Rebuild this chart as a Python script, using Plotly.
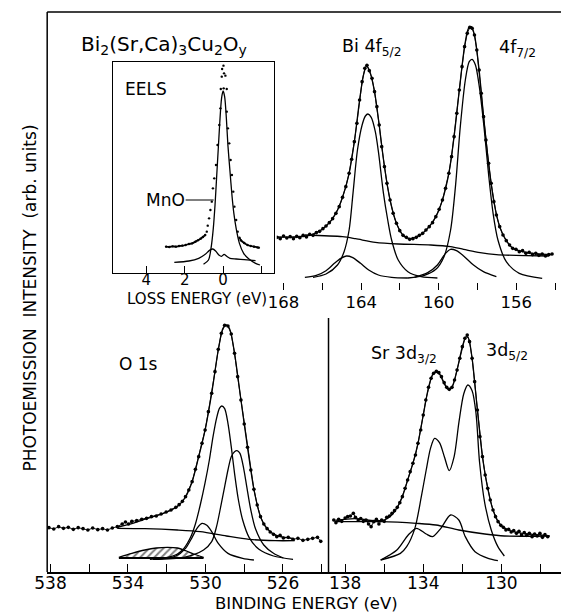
import plotly.graph_objects as go

W, H = 561, 613
FONT = "DejaVu Sans"

# ---------------- Bi 4f panel (binding energy eV, intensity arb.) ----------------
bi_dots_ev = [168.34, 168.17, 168.00, 167.83, 167.66, 167.49, 167.32, 167.16, 166.99, 166.82,
              166.65, 166.48, 166.31, 166.14, 165.97, 165.81, 165.64, 165.47, 165.30, 165.13,
              164.96, 164.79, 164.62, 164.49, 164.35, 164.22, 164.08, 163.95, 163.81, 163.70,
              163.58, 163.44, 163.31, 163.19, 163.07, 162.94, 162.80, 162.67, 162.51, 162.35,
              162.18, 162.01, 161.84, 161.67, 161.50, 161.33, 161.16, 161.00, 160.83, 160.66,
              160.49, 160.32, 160.15, 159.98, 159.81, 159.65, 159.48, 159.34, 159.21, 159.07,
              158.94, 158.80, 158.67, 158.53, 158.40, 158.28, 158.16, 158.04, 157.92, 157.81,
              157.69, 157.57, 157.43, 157.30, 157.16, 157.03, 156.86, 156.69, 156.52, 156.35,
              156.19, 156.02, 155.85, 155.68, 155.51, 155.34, 155.17, 155.00, 154.84, 154.67,
              154.50, 154.33, 154.16]
bi_dots_int = [15.8, 15.4, 16.2, 15.6, 16.0, 15.4, 16.1, 15.7, 16.4, 15.9,
               16.7, 16.4, 17.2, 17.6, 18.4, 19.2, 20.2, 21.4, 23.0, 25.0,
               27.8, 31.0, 35.0, 39.2, 44.5, 50.0, 57.0, 62.5, 66.5, 67.4,
               65.8, 63.5, 59.5, 55.0, 49.5, 43.0, 37.0, 32.0, 27.0, 23.0,
               20.0, 17.8, 16.4, 15.8, 15.2, 15.4, 15.8, 16.4, 17.0, 18.0,
               19.0, 20.2, 22.0, 24.2, 27.0, 30.5, 35.0, 40.0, 46.0, 53.0,
               60.0, 67.0, 73.0, 77.0, 78.8, 78.5, 76.5, 72.0, 66.0, 59.0,
               52.0, 45.0, 38.0, 32.0, 26.5, 22.5, 19.0, 16.5, 14.8, 13.5,
               12.5, 12.2, 11.5, 11.8, 11.0, 11.3, 10.6, 11.0, 10.4, 10.8,
               10.2, 10.6, 10.8]
bi_fit_ev = [168.34, 167.5, 166.8, 166.3, 165.8, 165.3, 164.96, 164.62, 164.35, 164.08, 163.88,
             163.72, 163.55, 163.31, 163.07, 162.8, 162.51, 162.18, 161.84, 161.5, 161.16, 160.83,
             160.49, 160.15, 159.81, 159.48, 159.21, 158.94, 158.67, 158.47, 158.32, 158.16,
             157.92, 157.69, 157.43, 157.16, 156.86, 156.52, 156.19, 155.68, 155.0, 154.16]
bi_fit_int = [15.9, 15.9, 16.2, 17.2, 19.2, 23.0, 27.8, 35.0, 44.5, 57.0, 64.5,
              67.2, 65.5, 59.5, 49.5, 37.0, 27.0, 20.0, 16.4, 15.4, 15.9, 17.0,
              19.0, 22.0, 27.0, 35.0, 46.0, 60.0, 73.0, 78.5, 79.0, 76.5,
              66.0, 52.0, 38.0, 26.5, 19.0, 14.8, 12.5, 11.5, 10.9, 10.6]
bi_bg_ev = [166.90, 164.96, 164.29, 163.27, 162.09, 160.41, 159.39, 158.72, 157.87, 157.03, 154.33]
bi_bg_int = [16.5, 16.0, 15.4, 14.3, 13.8, 13.5, 13.0, 12.2, 11.2, 10.6, 10.2]
bi_f52_ev = [166.48, 165.81, 165.22, 164.88, 164.62, 164.42, 164.19, 163.95, 163.78, 163.65,
             163.48, 163.27, 163.11, 162.85, 162.63, 162.43, 162.09, 161.59, 160.91, 160.07]
bi_f52_int = [3.8, 4.8, 7.5, 11.5, 18.0, 29.0, 42.0, 49.5, 52.2, 52.8,
              51.8, 47.5, 41.5, 29.0, 21.0, 15.0, 9.0, 5.5, 4.0, 3.6]
bi_sat1_ev = [166.90, 166.31, 165.81, 165.38, 165.05, 164.76, 164.46, 164.03, 163.61, 163.11, 162.43, 161.59]
bi_sat1_int = [3.8, 4.4, 5.8, 8.0, 9.5, 10.2, 9.8, 8.0, 6.0, 4.5, 3.8, 3.6]
bi_f72_ev = [161.59, 160.74, 160.15, 159.73, 159.39, 159.14, 158.89, 158.63, 158.43, 158.28,
             158.11, 157.91, 157.67, 157.42, 157.20, 156.95, 156.52, 155.85, 154.67]
bi_f72_int = [3.6, 4.4, 6.2, 10.0, 18.0, 31.0, 49.0, 63.0, 68.5, 69.2,
              67.5, 61.0, 49.0, 34.0, 23.0, 15.0, 8.5, 5.0, 3.5]
bi_sat2_ev = [161.25, 160.57, 160.07, 159.65, 159.39, 159.09, 158.72, 158.21, 157.70, 157.03]
bi_sat2_int = [3.8, 5.2, 7.5, 11.0, 12.2, 11.8, 10.2, 7.5, 5.5, 4.0]
bi_ticks = [168, 164, 160, 156]
bi_minor_ticks = [166, 162, 158, 154]

# ---------------- O 1s panel ----------------
o_dots_ev = [538.08, 537.83, 537.58, 537.33, 537.08, 536.82, 536.57, 536.32, 536.07, 535.82,
             535.56, 535.31, 535.06, 534.81, 534.55, 534.30, 534.13, 533.97, 533.80, 533.55,
             533.29, 533.04, 532.79, 532.54, 532.29, 532.03, 531.78, 531.53, 531.36, 531.19,
             531.03, 530.86, 530.69, 530.52, 530.35, 530.18, 530.02, 529.85, 529.68, 529.51,
             529.34, 529.18, 529.01, 528.84, 528.67, 528.50, 528.34, 528.17, 528.00, 527.83,
             527.66, 527.50, 527.33, 527.16, 526.99, 526.82, 526.66, 526.49, 526.32, 526.15,
             525.98, 525.73, 525.48, 525.23, 524.97, 524.72, 524.47, 524.22, 524.05]
o_dots_int = [13.2, 12.8, 13.5, 13.0, 13.3, 12.7, 13.2, 12.9, 12.5, 13.1,
              12.6, 12.9, 12.5, 13.1, 13.5, 14.3, 14.9, 14.3, 15.1, 15.3,
              15.7, 16.0, 16.5, 16.7, 17.3, 17.9, 18.5, 19.3, 20.1, 21.1,
              22.5, 24.5, 27.0, 30.7, 34.5, 38.5, 42.5, 48.0, 53.5, 60.0,
              66.7, 71.5, 73.9, 73.7, 71.3, 65.5, 58.5, 51.5, 44.3, 37.3,
              30.5, 24.7, 20.0, 16.5, 14.3, 12.9, 11.9, 11.2, 10.5, 10.9,
              10.1, 10.3, 9.7, 10.0, 9.4, 9.7, 10.0, 10.3, 9.1]
o_fit_ev = [534.5, 533.8, 533.3, 532.8, 532.3, 531.8, 531.36, 531.03, 530.69, 530.35, 530.02,
            529.68, 529.34, 529.1, 528.93, 528.75, 528.50, 528.17, 527.83, 527.5, 527.16,
            526.82, 526.32, 525.5]
o_fit_int = [13.4, 14.4, 15.4, 16.3, 17.2, 18.4, 20.0, 22.4, 27.0, 34.5, 42.5,
             53.5, 66.5, 73.0, 74.0, 72.8, 65.5, 51.5, 37.3, 24.7, 16.5,
             12.9, 10.8, 10.0]
o_bg_ev = [534.55, 533.13, 531.45, 530.27, 528.92, 527.75, 526.40, 525.39]
o_bg_int = [13.0, 12.9, 12.5, 12.0, 10.7, 9.7, 9.3, 9.3]
o_a_ev = [532.87, 532.03, 531.45, 531.11, 530.77, 530.52, 530.27, 530.02, 529.80, 529.61,
          529.43, 529.28, 529.16, 529.01, 528.84, 528.67, 528.50, 528.30, 528.08, 527.75,
          527.24, 526.49, 525.48]
o_a_int = [3.7, 4.2, 5.3, 7.0, 10.3, 14.3, 20.0, 26.7, 33.5, 40.5,
           46.0, 49.0, 49.7, 48.9, 44.5, 37.5, 29.5, 21.5, 15.5, 10.3,
           6.7, 4.7, 3.7]
o_b_ev = [532.71, 531.11, 530.10, 529.68, 529.43, 529.18, 529.01, 528.84, 528.67, 528.50,
          528.37, 528.22, 528.03, 527.87, 527.66, 527.41, 526.99, 526.49, 525.98]
o_b_int = [3.7, 4.3, 6.5, 9.0, 13.5, 20.5, 25.5, 30.5, 34.5, 36.0,
           36.3, 35.5, 31.0, 25.5, 18.5, 12.7, 8.0, 5.5, 4.1]
o_c_ev = [532.62, 531.53, 531.03, 530.69, 530.44, 530.18, 529.93, 529.68, 529.34, 528.84, 528.08, 527.50]
o_c_int = [3.7, 4.7, 7.0, 10.3, 13.0, 14.5, 13.9, 12.0, 8.5, 5.5, 4.0, 3.5]
o_d_ev = [534.47, 533.80, 533.13, 532.54, 531.95, 531.45, 531.03, 530.61, 530.10]
o_d_int = [4.3, 5.5, 6.5, 7.1, 7.3, 7.1, 6.3, 5.3, 4.3]
o_d_base = 4.1
o_ticks = [538, 534, 530, 526]
o_minor_ticks = [536, 532, 528, 524]

# ---------------- Sr 3d panel ----------------
sr_dots_ev = [138.58, 138.47, 138.33, 138.17, 138.00, 137.87, 137.73, 137.58, 137.47, 137.33,
              137.20, 137.07, 136.93, 136.80, 136.67, 136.53, 136.40, 136.27, 136.13, 136.00,
              135.87, 135.73, 135.60, 135.47, 135.33, 135.20, 135.07, 134.93, 134.80, 134.67,
              134.53, 134.40, 134.27, 134.13, 134.00, 133.87, 133.73, 133.60, 133.47, 133.33,
              133.20, 133.07, 132.93, 132.80, 132.67, 132.53, 132.40, 132.27, 132.13, 132.00,
              131.87, 131.75, 131.63, 131.50, 131.37, 131.23, 131.10, 130.97, 130.83, 130.70,
              130.57, 130.43, 130.30, 130.17, 130.03, 129.90, 129.77, 129.63, 129.50, 129.37,
              129.23, 129.10, 128.97, 128.83, 128.70, 128.57, 128.43, 128.30, 128.17, 128.03,
              127.90, 127.77, 127.63]
sr_dots_int = [15.6, 14.8, 15.8, 15.2, 16.2, 16.6, 16.8, 17.6, 16.4, 15.6,
               16.0, 15.2, 15.6, 14.4, 13.6, 15.1, 15.8, 14.4, 15.6, 15.2,
               16.4, 16.8, 17.6, 18.4, 19.4, 20.8, 22.6, 25.1, 27.6, 30.1,
               32.6, 35.1, 38.6, 42.6, 47.1, 51.6, 55.4, 58.1, 59.6, 60.2,
               59.8, 58.6, 56.8, 55.4, 54.8, 55.4, 57.6, 60.6, 64.1, 67.6,
               70.1, 71.1, 69.1, 64.1, 57.1, 48.6, 40.6, 34.6, 29.1, 25.1,
               21.6, 18.6, 16.6, 15.1, 14.0, 13.4, 12.6, 12.8, 12.0, 12.4,
               11.6, 12.2, 11.1, 11.8, 11.0, 11.6, 10.6, 11.4, 10.8, 11.6,
               10.4, 11.2, 10.6]
sr_fit_ev = [138.5, 137.5, 136.5, 136.0, 135.6, 135.33, 135.07, 134.8, 134.53, 134.27, 134.0,
             133.73, 133.5, 133.33, 133.15, 132.93, 132.72, 132.53, 132.27, 132.0, 131.82,
             131.7, 131.5, 131.23, 130.97, 130.7, 130.43, 130.17, 129.9, 129.5, 128.8, 127.7]
sr_fit_int = [15.5, 16.0, 15.4, 15.6, 17.2, 19.4, 22.6, 27.6, 32.6, 38.6, 47.1,
              55.4, 59.5, 60.0, 59.2, 56.5, 54.8, 55.4, 60.6, 67.6, 70.5,
              70.3, 64.1, 48.6, 34.6, 25.1, 18.6, 15.1, 13.4, 12.3, 11.5, 11.0]
sr_bg_ev = [138.52, 136.18, 134.35, 133.35, 132.18, 130.85, 129.85, 127.52]
sr_bg_int = [15.1, 15.1, 14.6, 14.1, 12.6, 11.4, 10.8, 10.8]
sr_main_ev = [136.18, 135.17, 134.85, 134.43, 134.10, 133.85, 133.63, 133.42, 133.17, 132.92,
              132.67, 132.42, 132.17, 131.93, 131.72, 131.50, 131.30, 131.12, 130.85, 130.52,
              130.18, 129.85]
sr_main_int = [3.6, 5.6, 7.6, 13.1, 22.6, 30.6, 37.1, 40.1, 38.8, 34.6,
               30.4, 34.6, 45.1, 53.4, 56.1, 54.4, 47.6, 33.0, 20.6, 12.6,
               7.6, 4.8]
sr_surf_ev = [136.18, 135.35, 134.77, 134.35, 133.85, 133.52, 133.10, 132.60, 132.18, 131.85,
              131.35, 130.68, 130.18]
sr_surf_int = [3.6, 6.6, 11.1, 13.1, 11.4, 10.6, 13.1, 17.1, 15.6, 10.6,
               6.1, 4.1, 3.4]
sr_ticks = [138, 134, 130]
sr_minor_ticks = [136, 132, 128]

# ---------------- EELS inset (loss energy eV) ----------------
eels_dots_ev = [2.97, 2.80, 2.63, 2.46, 2.29, 2.12, 1.95, 1.78, 1.61, 1.44, 1.31, 1.17, 1.05, 0.93,
                0.85, 0.80, 0.73, 0.66, 0.59, 0.53, 0.46, 0.37, 0.29, 0.20, 0.14,
                0.12, -0.03, -0.19, 0.07, -0.05, 0.05, -0.02, -0.12,
                -0.19, -0.25, -0.32, -0.39, -0.46, -0.53, -0.59, -0.68, -0.76,
                -0.85, -0.93, -1.10, -1.27, -1.44, -1.61, -1.78, -1.86]
eels_dots_int = [8.0, 7.9, 8.1, 8.0, 8.2, 8.3, 8.5, 8.8, 9.0, 9.5, 9.9, 10.4, 10.9, 11.5,
                 12.5, 14.3, 16.5, 19.0, 21.5, 25.5, 28.5, 32.5, 38.5, 44.5, 49.5,
                 55.3, 55.5, 55.3, 59.0, 60.0, 61.3, 62.3, 59.3,
                 48.5, 43.5, 39.0, 34.0, 29.5, 24.5, 20.0, 16.0, 12.5,
                 10.7, 9.9, 9.1, 8.5, 8.2, 8.0, 7.8, 7.7]
eels_mno_ev = [1.02, 0.76, 0.63, 0.51, 0.42, 0.34, 0.25, 0.17, 0.08, 0.00, -0.08,
               -0.17, -0.25, -0.36, -0.46, -0.56, -0.68, -0.85, -1.07, -1.36, -1.69, -1.92]
eels_mno_int = [2.7, 4.0, 7.5, 13.5, 20.5, 28.5, 37.5, 45.5, 52.5, 54.7, 53.0,
                46.5, 38.5, 30.5, 23.5, 18.0, 13.5, 9.0, 6.0, 4.2, 3.0, 2.5]
eels_diff_ev = [2.54, 1.78, 1.27, 0.93, 0.71, 0.54, 0.39, 0.22, 0.08, -0.05, -0.19, -0.36, -0.68, -1.10, -1.69]
eels_diff_int = [3.3, 3.7, 4.5, 5.7, 6.9, 7.3, 6.7, 5.5, 5.1, 5.7, 5.1, 4.5, 4.3, 4.1, 3.8]
eels_ticks = [4, 2, 0]
eels_minor_ticks = [-2]
mno_pointer_ev = [1.95, 0.49]
mno_pointer_int = 22.0


def px(x):
    return x / W


def py(y):
    return 1 - y / H


fig = go.Figure()


def add_line(x, y, n, width=1.3, shape="spline"):
    fig.add_trace(go.Scatter(x=x, y=y, mode="lines", xaxis="x" + n, yaxis="y" + n,
                             line=dict(color="black", width=width, shape=shape, smoothing=0.8),
                             hoverinfo="skip"))


def add_dots(x, y, n, size=3.6, join=0.9):
    fig.add_trace(go.Scatter(x=x, y=y, mode="lines+markers" if join else "markers",
                             xaxis="x" + n, yaxis="y" + n,
                             line=dict(color="black", width=join),
                             marker=dict(color="black", size=size, line=dict(width=0)),
                             hoverinfo="skip"))


# Bi panel -> axis "" (x, y)
for xs, ys in [(bi_bg_ev, bi_bg_int), (bi_f52_ev, bi_f52_int), (bi_sat1_ev, bi_sat1_int),
               (bi_f72_ev, bi_f72_int), (bi_sat2_ev, bi_sat2_int), (bi_fit_ev, bi_fit_int)]:
    add_line(xs, ys, "")
add_dots(bi_dots_ev, bi_dots_int, "")

# O 1s panel -> axis 2
fig.add_trace(go.Scatter(x=[o_d_ev[0], o_d_ev[-1]], y=[o_d_base, o_d_base], mode="lines",
                         xaxis="x2", yaxis="y2", line=dict(color="black", width=2.2),
                         hoverinfo="skip"))
fig.add_trace(go.Scatter(x=o_d_ev, y=o_d_int, mode="lines", xaxis="x2", yaxis="y2",
                         fill="tonexty", fillcolor="rgba(255,255,255,0)",
                         fillpattern=dict(shape="/", fgcolor="black", bgcolor="rgba(255,255,255,0)",
                                          size=5, solidity=0.4),
                         line=dict(color="black", width=1.3, shape="spline", smoothing=0.8),
                         hoverinfo="skip"))
for xs, ys in [(o_bg_ev, o_bg_int), (o_a_ev, o_a_int), (o_b_ev, o_b_int),
               (o_c_ev, o_c_int), (o_fit_ev, o_fit_int)]:
    add_line(xs, ys, "2")
add_dots(o_dots_ev, o_dots_int, "2")

# Sr panel -> axis 3
for xs, ys in [(sr_bg_ev, sr_bg_int), (sr_main_ev, sr_main_int), (sr_surf_ev, sr_surf_int),
               (sr_fit_ev, sr_fit_int)]:
    add_line(xs, ys, "3")
add_dots(sr_dots_ev, sr_dots_int, "3")

# EELS inset -> axis 4
add_line(eels_mno_ev, eels_mno_int, "4")
add_line(eels_diff_ev, eels_diff_int, "4")
add_line(eels_dots_ev[:14], eels_dots_int[:14], "4", width=1.8)
add_line(eels_dots_ev[42:], eels_dots_int[42:], "4", width=1.8)
add_dots(eels_dots_ev, eels_dots_int, "4", size=2.4, join=0)
add_line(mno_pointer_ev, [mno_pointer_int, mno_pointer_int], "4", width=1.0, shape="linear")


def xaxis_style(vals, minor_vals, size, standoff, ticklen=8):
    return dict(showgrid=False, zeroline=False, ticks="inside", ticklen=ticklen, tickwidth=1.3,
                tickcolor="black", tickmode="array", tickvals=vals,
                ticktext=[str(v) for v in vals], ticklabelstandoff=standoff,
                tickfont=dict(family=FONT, size=size, color="black"),
                minor=dict(tickmode="array", tickvals=minor_vals, ticks="inside",
                           ticklen=ticklen, tickwidth=1.3, tickcolor="black", showgrid=False))


hidden_y = dict(showgrid=False, zeroline=False, showticklabels=False, ticks="", showline=False)

fig.update_layout(
    width=W, height=H, margin=dict(l=0, r=0, t=0, b=0),
    paper_bgcolor="white", plot_bgcolor="rgba(0,0,0,0)", showlegend=False,
    font=dict(family=FONT, color="black"),
    xaxis=dict(domain=[px(270), 1.0], range=[168.35, 153.70], anchor="y", showline=False,
               **xaxis_style(bi_ticks, bi_minor_ticks, 16.5, 0, ticklen=7)),
    yaxis=dict(domain=[py(290), py(12)], range=[0, 83.4], anchor="x", **hidden_y),
    xaxis2=dict(domain=[px(35), px(323)], range=[538.17, 523.65], anchor="y2",
                showline=True, linecolor="black", linewidth=1.5,
                **xaxis_style(o_ticks, o_minor_ticks, 17, -5)),
    yaxis2=dict(domain=[py(572), py(318)], range=[-0.1, 76.1], anchor="x2", **hidden_y),
    xaxis3=dict(domain=[px(323), 1.0], range=[138.85, 126.95], anchor="y3",
                showline=True, linecolor="black", linewidth=1.5,
                **xaxis_style(sr_ticks, sr_minor_ticks, 17, -5)),
    yaxis3=dict(domain=[py(572), py(318)], range=[0, 76.2], anchor="x3", **hidden_y),
    xaxis4=dict(domain=[px(102), px(267)], range=[5.75, -2.64], anchor="y4",
                showline=True, mirror=True, linecolor="black", linewidth=1.3,
                **xaxis_style(eels_ticks, eels_minor_ticks, 15, -7, ticklen=7)),
    yaxis4=dict(domain=[py(273), py(62)], range=[0.1, 63.4], anchor="x4",
                showline=True, mirror=True, linecolor="black", linewidth=1.3,
                showgrid=False, zeroline=False, showticklabels=False, ticks=""),
)

# frame lines
shapes = [
    dict(type="line", xref="paper", yref="paper", x0=px(35), x1=px(35), y0=py(12), y1=py(572),
         line=dict(color="black", width=1.5)),
    dict(type="line", xref="paper", yref="paper", x0=px(35), x1=1.0, y0=py(12), y1=py(12),
         line=dict(color="black", width=1.5)),
    dict(type="line", xref="paper", yref="paper", x0=px(323), x1=px(323), y0=py(318), y1=py(572),
         line=dict(color="black", width=1.5)),
]
fig.update_layout(shapes=shapes)


def label(text, x, y, size=17, angle=0):
    fig.add_annotation(text=text, x=px(x), y=py(y), xref="paper", yref="paper",
                       xanchor="center", yanchor="middle", showarrow=False, textangle=angle,
                       font=dict(family=FONT, size=size, color="black"))


label("Bi<sub>2</sub>(Sr,Ca)<sub>3</sub>Cu<sub>2</sub>O<sub>y</sub>", 155, 45, size=20)
label("EELS", 136, 89, size=17)
label("MnO", 156, 200, size=17)
label("LOSS ENERGY (eV)", 188, 299, size=15)
label("Bi 4f<sub>5/2</sub>", 367, 48, size=17.5)
label("4f<sub>7/2</sub>", 516, 49, size=17.5)
label("O 1s", 128, 364, size=17)
label("Sr 3d<sub>3/2</sub>", 400, 354, size=17.5)
label("3d<sub>5/2</sub>", 506, 351, size=17.5)
label("BINDING ENERGY (eV)", 300, 603, size=16.5)
label("PHOTOEMISSION  INTENSITY  (arb. units)", 17, 298, size=17, angle=-90)

fig.write_html("out.html", config={"displayModeBar": False},
               post_script="document.body.style.margin='0px';")
